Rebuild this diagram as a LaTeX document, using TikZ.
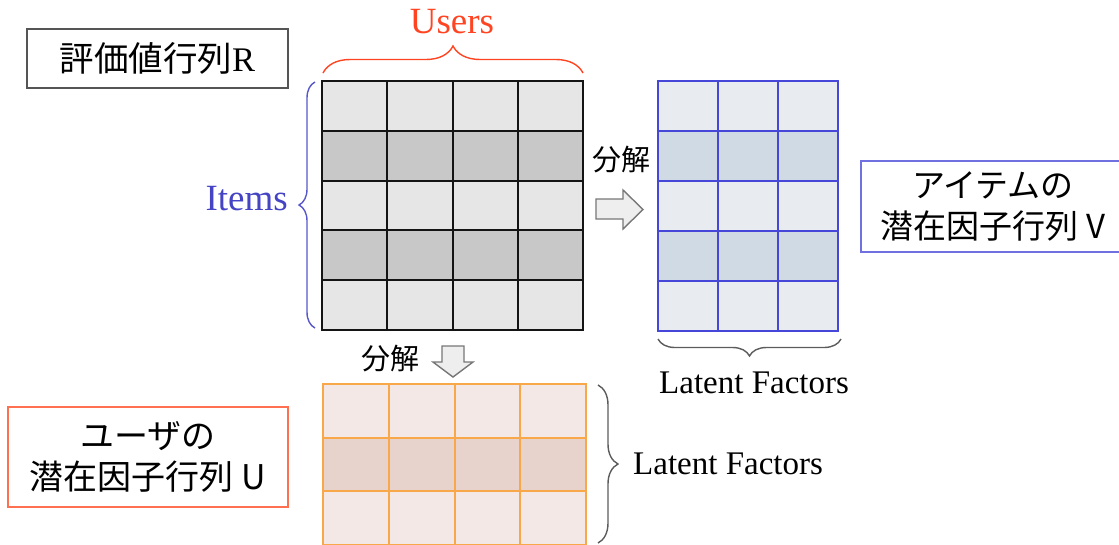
\documentclass[tikz,border=0pt]{standalone}
\usepackage{fontspec}
\setmainfont{Liberation Serif}
\newfontfamily\jpfont{Noto Sans CJK JP}
\usetikzlibrary{decorations.pathreplacing}

\definecolor{rlight}{HTML}{E6E6E6}
\definecolor{rdark}{HTML}{C8C8C8}
\definecolor{rline}{HTML}{141414}
\definecolor{vlight}{HTML}{E8ECF1}
\definecolor{vdark}{HTML}{D0DAE4}
\definecolor{vline}{HTML}{4646D8}
\definecolor{ulight}{HTML}{F4E8E6}
\definecolor{udark}{HTML}{E8D2CC}
\definecolor{uline}{HTML}{F8A848}
\definecolor{usersred}{HTML}{FF4422}
\definecolor{itemsblue}{HTML}{4444C4}
\definecolor{rboxline}{HTML}{555555}
\definecolor{vboxline}{HTML}{7070E0}
\definecolor{uboxline}{HTML}{FF7050}
\definecolor{bracegray}{HTML}{5C5C5C}
\definecolor{arrowfill}{HTML}{EEEEEE}
\definecolor{arrowline}{HTML}{777777}

\begin{document}
\begin{tikzpicture}[x=1pt,y=-1pt,
  cjk/.style={font=\jpfont\fontsize{#1}{41}\selectfont, align=center, text=black},
  serif/.style={font=\fontsize{#1}{#1}\selectfont, inner sep=0pt},
  bracepath/.style={decorate, decoration={brace, amplitude=#1}, line width=1.4pt},
  blockarrow/.style={fill=arrowfill, draw=arrowline, line width=1.4pt, line join=miter},
  gridline/.style={line width=2pt, draw=#1},
  titlebox/.style={draw=#1, line width=1.8pt, inner sep=0pt}]

\useasboundingbox (0,0) rectangle (1119,544);
\clip (0,0) rectangle (1119,544);

% ---------- rating matrix R (4 users x 5 items) ----------
\coordinate (Rnw) at (322,81);
\coordinate (Rse) at (583,330);
\fill[rlight] (Rnw) rectangle (Rse);
\foreach \r in {1,3}
  \fill[rdark] (322,{81+\r*49.8}) rectangle (583,{81+(\r+1)*49.8});
\foreach \i in {1,2,3}
  \draw[gridline=rline] ({322+\i*65.25},81) -- ({322+\i*65.25},330);
\foreach \j in {1,...,4}
  \draw[gridline=rline] (322,{81+\j*49.8}) -- (583,{81+\j*49.8});
\draw[gridline=rline] (Rnw) rectangle (Rse);

% ---------- item factor matrix V (3 factors x 5 items) ----------
\coordinate (Vnw) at (658,81);
\coordinate (Vse) at (838,331);
\fill[vlight] (Vnw) rectangle (Vse);
\foreach \r in {1,3}
  \fill[vdark] (658,{81+\r*50}) rectangle (838,{81+(\r+1)*50});
\foreach \i in {1,2}
  \draw[gridline=vline] ({658+\i*60},81) -- ({658+\i*60},331);
\foreach \j in {1,...,4}
  \draw[gridline=vline] (658,{81+\j*50}) -- (838,{81+\j*50});
\draw[gridline=vline] (Vnw) rectangle (Vse);

% ---------- user factor matrix U (4 users x 3 factors) ----------
\coordinate (Unw) at (323,384);
\coordinate (Use) at (586,545);
\fill[ulight] (Unw) rectangle (Use);
\fill[udark] (323,437.7) rectangle (586,491.3);
\foreach \i in {1,2,3}
  \draw[gridline=uline] ({323+\i*65.75},384) -- ({323+\i*65.75},545);
\draw[gridline=uline] (323,437.7) -- (586,437.7);
\draw[gridline=uline] (323,491.3) -- (586,491.3);
\draw[gridline=uline] (Unw) rectangle (Use);

% ---------- braces ----------
\coordinate (usersA) at (323,73);
\coordinate (usersB) at (583,73);
\draw[bracepath=27, usersred] (usersA) -- (usersB);
\coordinate (itemsA) at (315,328);
\coordinate (itemsB) at (315,82);
\draw[bracepath=16, itemsblue!90!white] (itemsA) -- (itemsB);
\coordinate (vbrA) at (841,339);
\coordinate (vbrB) at (658,339);
\draw[bracepath=17, bracegray] (vbrA) -- (vbrB);
\coordinate (ubrA) at (598,385);
\coordinate (ubrB) at (598,543);
\draw[bracepath=20, bracegray] (ubrA) -- (ubrB);

% ---------- axis labels ----------
\node[serif=37, text=usersred, anchor=base] (users) at (452,33) {Users};
\node[serif=37, text=itemsblue, anchor=base east] (items) at (288,210) {Items};
\node[serif=33, anchor=base west] (vfactors) at (659,393) {Latent Factors};
\node[serif=33, anchor=base west] (ufactors) at (633,474) {Latent Factors};

% ---------- decomposition arrows ----------
\draw[blockarrow] (596,199) -- (623,199) -- (623,190) -- (643,209.5)
  -- (623,229) -- (623,219) -- (596,219) -- cycle;
\node[cjk=29, inner sep=0pt] (splitV) at (621,160) {分解};
\draw[blockarrow] (442,346) -- (464,346) -- (464,362) -- (473,362)
  -- (453,377) -- (433,362) -- (442,362) -- cycle;
\node[cjk=29, inner sep=0pt] (splitU) at (390,359) {分解};

% ---------- titles ----------
\node[titlebox=rboxline, minimum width=261pt, minimum height=59pt,
  cjk=34.5] (rtitle) at (157.5,58.5) {評価値行列{\rmfamily R}};
\node[titlebox=vboxline, minimum width=264pt, minimum height=91pt,
  cjk=33] (vtitle) at (993,206.5) {アイテムの\\潜在因子行列 V};
\node[titlebox=uboxline, minimum width=280pt, minimum height=100pt,
  cjk=34] (utitle) at (148,457) {ユーザの\\潜在因子行列 U};

\end{tikzpicture}
\end{document}
